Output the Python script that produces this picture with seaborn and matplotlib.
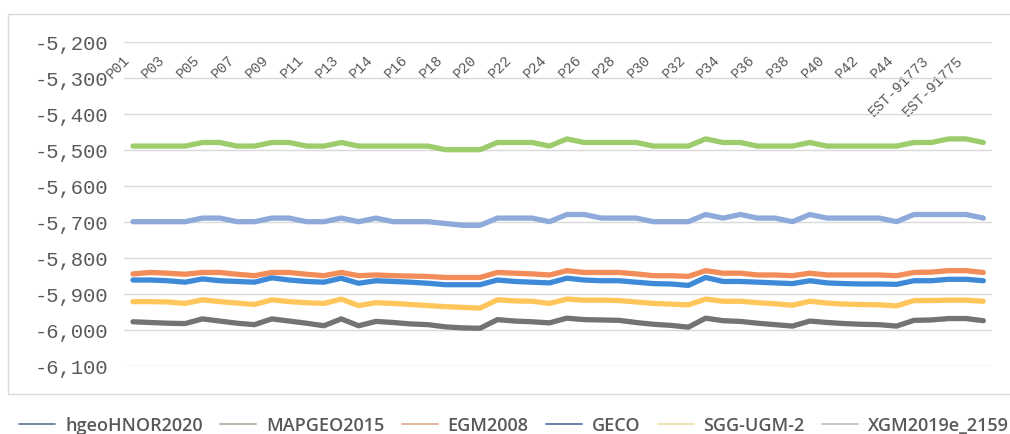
import pandas as pd
import matplotlib.pyplot as plt
import seaborn as sns
from matplotlib.lines import Line2D
from matplotlib.patches import Rectangle

# station names (only every second one is labelled on the chart)
stations = ([f"P{i:02d}" for i in range(1, 14)] + ["P13A"]
            + [f"P{i:02d}" for i in range(14, 46)]
            + ["EST-91773", "EST-91774", "EST-91775", "EST-91776"])

hgeoHNOR2020 = [-5700, -5700, -5700, -5700, -5690, -5690, -5700, -5700, -5690, -5690,
                -5700, -5700, -5690, -5700, -5690, -5700, -5700, -5700, -5705, -5710,
                -5710, -5690, -5690, -5690, -5700, -5680, -5680, -5690, -5690, -5690,
                -5700, -5700, -5700, -5680, -5690, -5680, -5690, -5690, -5700, -5680,
                -5690, -5690, -5690, -5690, -5700, -5680, -5680, -5680, -5680, -5690]
MAPGEO2015 = [-5490, -5490, -5490, -5490, -5480, -5480, -5490, -5490, -5480, -5480,
              -5490, -5490, -5480, -5490, -5490, -5490, -5490, -5490, -5500, -5500,
              -5500, -5480, -5480, -5480, -5490, -5470, -5480, -5480, -5480, -5480,
              -5490, -5490, -5490, -5470, -5480, -5480, -5490, -5490, -5490, -5480,
              -5490, -5490, -5490, -5490, -5490, -5480, -5480, -5470, -5470, -5480]
EGM2008 = [-5845, -5841, -5843, -5846, -5841, -5841, -5846, -5850, -5841, -5841,
           -5846, -5850, -5841, -5850, -5848, -5850, -5851, -5852, -5855, -5855,
           -5855, -5841, -5843, -5845, -5848, -5836, -5841, -5841, -5841, -5845,
           -5850, -5850, -5852, -5836, -5843, -5843, -5848, -5848, -5850, -5843,
           -5848, -5848, -5848, -5848, -5850, -5841, -5840, -5836, -5836, -5841]
GECO = [-5862, -5862, -5864, -5868, -5859, -5864, -5866, -5868, -5856, -5862,
        -5866, -5868, -5857, -5871, -5864, -5866, -5868, -5871, -5875, -5875,
        -5875, -5862, -5866, -5868, -5870, -5857, -5862, -5864, -5864, -5868,
        -5872, -5873, -5877, -5855, -5866, -5866, -5868, -5870, -5872, -5864,
        -5870, -5872, -5873, -5873, -5874, -5864, -5864, -5860, -5860, -5864]
SGG_UGM_2 = [-5922, -5922, -5923, -5927, -5917, -5922, -5926, -5930, -5917, -5922,
             -5925, -5927, -5915, -5933, -5925, -5927, -5930, -5933, -5936, -5938,
             -5940, -5917, -5920, -5921, -5927, -5915, -5918, -5918, -5919, -5923,
             -5927, -5929, -5931, -5915, -5921, -5921, -5925, -5928, -5932, -5921,
             -5926, -5929, -5930, -5931, -5934, -5919, -5919, -5918, -5918, -5921]
XGM2019e_2159 = [-5978, -5980, -5982, -5983, -5970, -5976, -5982, -5986, -5970, -5976,
                 -5982, -5989, -5970, -5989, -5977, -5980, -5984, -5986, -5992, -5995,
                 -5996, -5972, -5976, -5978, -5981, -5968, -5972, -5973, -5974, -5980,
                 -5985, -5988, -5993, -5968, -5975, -5977, -5982, -5986, -5990, -5976,
                 -5980, -5983, -5985, -5986, -5990, -5974, -5973, -5969, -5969, -5975]

series_names = ["hgeoHNOR2020", "MAPGEO2015", "EGM2008", "GECO", "SGG-UGM-2", "XGM2019e_2159"]
series_vals = [hgeoHNOR2020, MAPGEO2015, EGM2008, GECO, SGG_UGM_2, XGM2019e_2159]
line_colors = ["#8eaadb", "#9ccc6c", "#f28c58", "#3f8ad8", "#ffc65c", "#737373"]
legend_colors = ["#6d7f9c", "#a9b59f", "#e3b394", "#5f72a4", "#ebdfa8", "#c4c4c4"]

rows = []
for name, vals in zip(series_names, series_vals):
    for i, v in enumerate(vals):
        rows.append({"idx": i, "station": stations[i], "model": name, "value": v})
df = pd.DataFrame(rows)

sns.set_style("white")
plt.rcParams["font.family"] = ["Liberation Mono", "DejaVu Sans Mono", "DejaVu Sans"]

fig = plt.figure(figsize=(10.1, 4.35), dpi=100)
ax = fig.add_axes([124.3 / 1010, 1 - 366.7 / 435, (992 - 124.3) / 1010, (366.7 - 42.7) / 435])

sns.lineplot(data=df, x="idx", y="value", hue="model", hue_order=series_names,
             palette=dict(zip(series_names, line_colors)), linewidth=3.8,
             legend=False, ax=ax, sort=False)

ax.set_ylim(-6100, -5200)
ax.set_xlim(-0.5, len(stations) - 0.5)
ax.set_yticks(range(-6100, -5199, 100))
ax.set_yticklabels([f"{t:,}" for t in range(-6100, -5199, 100)])
ax.grid(axis="y", color="#d9d9d9", linewidth=1)
ax.grid(axis="x", visible=False)
for s in ax.spines.values():
    s.set_visible(False)
ax.set_xlabel("")
ax.set_ylabel("")

ax.tick_params(axis="y", length=0, pad=11.5, labelsize=14.8, labelcolor="#595959")

# category labels sit just under the top gridline, slanted
ax.xaxis.tick_top()
ax.set_xticks(range(0, len(stations), 2))
ax.set_xticklabels(stations[::2], rotation=45, ha="right", va="top")
ax.tick_params(axis="x", length=0, pad=-7.5, labelsize=10.5, labelcolor="#595959")

# chart area border
fig.patches.append(Rectangle((8 / 1010, 1 - 395 / 435), 1.0, (395 - 15) / 435,
                             transform=fig.transFigure, fill=False,
                             edgecolor="#d9d9d9", linewidth=1))

handles = [Line2D([0], [0], color=c, lw=1.3) for c in legend_colors]
fig.legend(handles, series_names, loc="center", bbox_to_anchor=(0.509, 0.021),
           ncol=6, frameon=False, handlelength=2.0, handletextpad=0.55,
           columnspacing=0.95, prop={"family": "Open Sans", "size": 13, "weight": "semibold"},
           labelcolor="#595959")

fig.savefig("out.png", dpi=100)
